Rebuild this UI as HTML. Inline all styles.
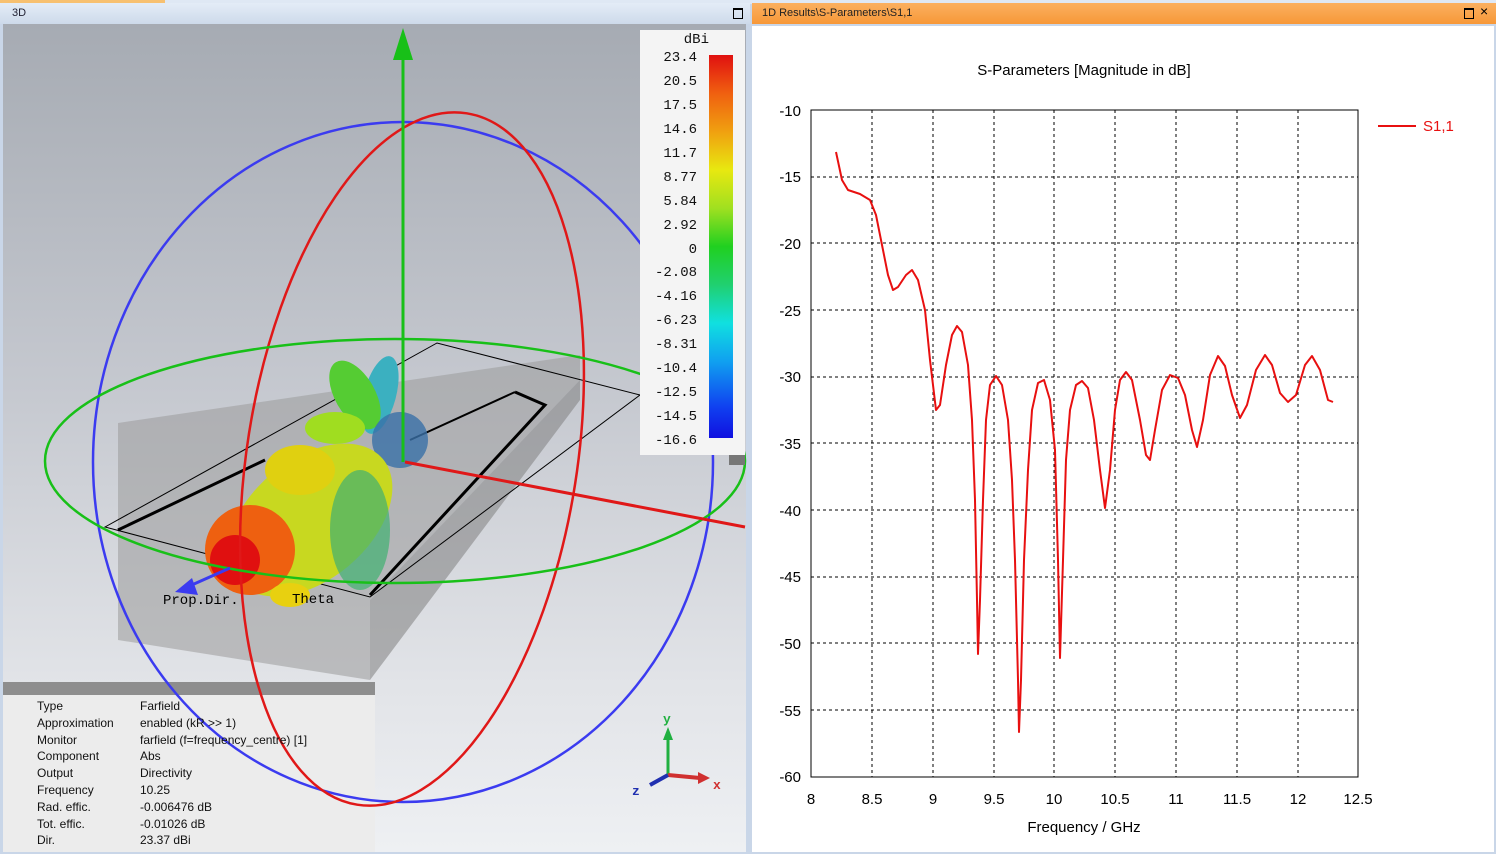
<!DOCTYPE html>
<html><head><meta charset="utf-8"><style>
body{margin:0;width:1496px;height:854px;overflow:hidden;background:#c9d6e8;font-family:"Liberation Sans",sans-serif;position:relative}
.a{position:absolute}
</style></head><body>
<div class="a" style="left:0;top:0;width:1496px;height:4px;background:#dfe8f4"></div>
<div class="a" style="left:0;top:0;width:165px;height:3px;background:#f7c070"></div>
<div class="a" style="left:0;top:3px;width:750px;height:21px;background:linear-gradient(#e4ecf7,#cddaea)"></div>
<div class="a" style="left:12px;top:7px;font-size:11px;color:#223">3D</div>
<div class="a" style="left:733px;top:8px;width:8px;height:8px;border:1px solid #000;border-top-width:2px"></div>
<div class="a" style="left:752px;top:3px;width:744px;height:21px;background:linear-gradient(#fbb060,#f79838)"></div>
<div class="a" style="left:762px;top:7px;font-size:11px;color:#222">1D Results\S-Parameters\S1,1</div>
<div class="a" style="left:1464px;top:8px;width:8px;height:8px;border:1px solid #000;border-top-width:2px"></div>
<div class="a" style="left:1480px;top:3px;font-size:14px;color:#000">×</div>
<div class="a" style="left:3px;top:24px;width:743px;height:828px;background:linear-gradient(#a6abb3 0%,#c6c9d0 45%,#e2e4e8 80%,#eef0f3 100%)"></div>
<div class="a" style="left:752px;top:26px;width:742px;height:826px;background:#fff"></div>

<svg class="a" style="left:0;top:0" width="750" height="854">
<polygon points="118,423 580,355 580,380 370,600 370,680 118,640" fill="#9a9a9a" opacity="0.55"/>
<polygon points="370,600 580,380 580,400 370,680" fill="#7f7f7f" opacity="0.55"/>
<polygon points="3,682 375,682 375,695 3,695" fill="#8e8e8e"/>
<polygon points="3,695 375,695 375,852 3,852" fill="#ececec"/>
<polygon points="105,527 437,343 640,395 370,597" fill="none" stroke="#000" stroke-width="1"/>
<polyline points="118,530 265,460" stroke="#000" stroke-width="3" fill="none"/>
<polyline points="515,392 545,405 370,595" stroke="#000" stroke-width="3" fill="none"/>
<line x1="410" y1="440" x2="515" y2="392" stroke="#000" stroke-width="2"/>
<ellipse cx="403" cy="462" rx="310" ry="340" fill="none" stroke="#3b3bf0" stroke-width="2.5"/>
<ellipse cx="380" cy="395" rx="16" ry="40" fill="#3bb0c0" transform="rotate(15 380 395)"/>
<ellipse cx="355" cy="395" rx="20" ry="38" fill="#55cc33" transform="rotate(-30 355 395)"/>
<ellipse cx="335" cy="428" rx="30" ry="16" fill="#a0dd20"/>
<ellipse cx="400" cy="440" rx="28" ry="28" fill="#3a70a8" opacity="0.8"/>
<ellipse cx="310" cy="520" rx="95" ry="60" fill="#c8d820" transform="rotate(-40 310 520)"/>
<ellipse cx="300" cy="470" rx="35" ry="25" fill="#e0d010"/>
<ellipse cx="250" cy="550" rx="45" ry="45" fill="#ee6010"/>
<ellipse cx="235" cy="560" rx="25" ry="25" fill="#e01010"/>
<ellipse cx="360" cy="530" rx="30" ry="60" fill="#40b070" opacity="0.7"/>
<ellipse cx="290" cy="595" rx="20" ry="12" fill="#e8d010"/>
<ellipse cx="412" cy="459" rx="165" ry="350" fill="none" stroke="#e01818" stroke-width="2.5" transform="rotate(9 412 459)"/>
<ellipse cx="395" cy="461" rx="350" ry="122" fill="none" stroke="#18c018" stroke-width="2.5"/>
<line x1="403" y1="462" x2="403" y2="55" stroke="#18c018" stroke-width="3"/>
<polygon points="393,60 413,60 403,28" fill="#18c018"/>
<line x1="405" y1="462" x2="745" y2="527" stroke="#e01818" stroke-width="3"/>
<line x1="230" y1="568" x2="185" y2="588" stroke="#3b3bf0" stroke-width="3"/>
<polygon points="175,592 192,578 198,595" fill="#3b3bf0"/>
<text x="163" y="604" font-family="Liberation Mono,monospace" font-size="14">Prop.Dir.</text>
<text x="292" y="603" font-family="Liberation Mono,monospace" font-size="14">Theta</text>
<line x1="668" y1="775" x2="668" y2="735" stroke="#20b040" stroke-width="3"/>
<polygon points="663,740 673,740 668,727" fill="#20b040"/>
<line x1="668" y1="775" x2="700" y2="778" stroke="#d03030" stroke-width="4"/>
<polygon points="698,772 698,784 710,778" fill="#d03030"/>
<line x1="668" y1="775" x2="650" y2="785" stroke="#2030b0" stroke-width="4"/>
<text x="663" y="723" fill="#20b040" font-size="13" font-family="Liberation Mono,monospace" font-weight="bold">y</text>
<text x="713" y="789" fill="#d03030" font-size="13" font-family="Liberation Mono,monospace" font-weight="bold">x</text>
<text x="632" y="795" fill="#2030b0" font-size="13" font-family="Liberation Mono,monospace" font-weight="bold">z</text>
<rect x="729" y="455" width="16" height="10" fill="#777"/>
<rect x="640" y="30" width="105" height="425" fill="#f4f4f4"/>
<defs><linearGradient id="cb" x1="0" y1="0" x2="0" y2="1">
<stop offset="0" stop-color="#e01010"/><stop offset=".1" stop-color="#f06010"/><stop offset=".2" stop-color="#f0a010"/><stop offset=".3" stop-color="#e8e810"/><stop offset=".4" stop-color="#a0e020"/><stop offset=".5" stop-color="#20d020"/><stop offset=".6" stop-color="#20d070"/><stop offset=".7" stop-color="#10e0e0"/><stop offset=".8" stop-color="#10a0f0"/><stop offset=".92" stop-color="#1040f0"/><stop offset="1" stop-color="#1010e0"/></linearGradient></defs>
<rect x="709" y="55" width="24" height="383" fill="url(#cb)"/>
<g font-family="Liberation Mono,monospace" font-size="14" text-anchor="end" fill="#111">
<text x="709" y="43">dBi</text>
<text x="697" y="61">23.4</text><text x="697" y="85">20.5</text><text x="697" y="109">17.5</text><text x="697" y="133">14.6</text><text x="697" y="157">11.7</text><text x="697" y="181">8.77</text><text x="697" y="205">5.84</text><text x="697" y="229">2.92</text><text x="697" y="253">0</text><text x="697" y="276">-2.08</text><text x="697" y="300">-4.16</text><text x="697" y="324">-6.23</text><text x="697" y="348">-8.31</text><text x="697" y="372">-10.4</text><text x="697" y="396">-12.5</text><text x="697" y="420">-14.5</text><text x="697" y="444">-16.6</text>
</g>
</svg>

<div class="a" style="left:37px;top:698px;font-size:12px;line-height:16.8px;color:#111">Type<br>Approximation<br>Monitor<br>Component<br>Output<br>Frequency<br>Rad. effic.<br>Tot. effic.<br>Dir.</div>
<div class="a" style="left:140px;top:698px;font-size:12px;line-height:16.8px;color:#111">Farfield<br>enabled (kR &gt;&gt; 1)<br>farfield (f=frequency_centre) [1]<br>Abs<br>Directivity<br>10.25<br>-0.006476 dB<br>-0.01026 dB<br>23.37 dBi</div>

<svg class="a" style="left:0;top:0" width="1496" height="854" font-family="Liberation Sans,sans-serif">
<text x="1084" y="75" font-size="15" text-anchor="middle">S-Parameters [Magnitude in dB]</text>
<g stroke="#000" stroke-dasharray="3,3" stroke-width="1">
<line x1="872" y1="110" x2="872" y2="777"/><line x1="933" y1="110" x2="933" y2="777"/><line x1="994" y1="110" x2="994" y2="777"/><line x1="1054" y1="110" x2="1054" y2="777"/><line x1="1115" y1="110" x2="1115" y2="777"/><line x1="1176" y1="110" x2="1176" y2="777"/><line x1="1237" y1="110" x2="1237" y2="777"/><line x1="1298" y1="110" x2="1298" y2="777"/>
<line x1="811" y1="177" x2="1358" y2="177"/><line x1="811" y1="243" x2="1358" y2="243"/><line x1="811" y1="310" x2="1358" y2="310"/><line x1="811" y1="377" x2="1358" y2="377"/><line x1="811" y1="443" x2="1358" y2="443"/><line x1="811" y1="510" x2="1358" y2="510"/><line x1="811" y1="577" x2="1358" y2="577"/><line x1="811" y1="643" x2="1358" y2="643"/><line x1="811" y1="710" x2="1358" y2="710"/>
</g>
<rect x="811" y="110" width="547" height="667" fill="none" stroke="#000"/>
<g font-size="15" text-anchor="end">
<text x="801" y="116">-10</text><text x="801" y="182">-15</text><text x="801" y="249">-20</text><text x="801" y="316">-25</text><text x="801" y="382">-30</text><text x="801" y="449">-35</text><text x="801" y="516">-40</text><text x="801" y="582">-45</text><text x="801" y="649">-50</text><text x="801" y="716">-55</text><text x="801" y="782">-60</text>
</g>
<g font-size="15" text-anchor="middle">
<text x="811" y="804">8</text><text x="872" y="804">8.5</text><text x="933" y="804">9</text><text x="994" y="804">9.5</text><text x="1054" y="804">10</text><text x="1115" y="804">10.5</text><text x="1176" y="804">11</text><text x="1237" y="804">11.5</text><text x="1298" y="804">12</text><text x="1358" y="804">12.5</text>
<text x="1084" y="832">Frequency / GHz</text>
</g>
<polyline fill="none" stroke="#e81010" stroke-width="2" stroke-linejoin="round" points="836,152 842,180 848,190 860,194 870,200 876,215 882,245 888,275 893,290 898,287 906,275 912,270 918,280 925,310 930,360 936,410 940,405 946,365 952,335 957,326 962,332 968,365 972,420 975,500 977,600 978,654 980,600 983,500 986,420 990,385 996,376 1002,385 1008,420 1012,480 1015,560 1018,680 1019,732 1021,680 1024,560 1028,470 1032,410 1038,383 1044,380 1050,400 1055,450 1058,560 1060,658 1063,560 1066,460 1070,410 1076,385 1082,381 1088,388 1094,420 1100,470 1105,508 1110,470 1115,410 1120,380 1126,372 1132,380 1140,420 1146,455 1150,460 1155,430 1162,390 1170,375 1178,378 1185,395 1192,430 1197,447 1203,420 1210,375 1218,356 1225,366 1232,395 1240,418 1247,405 1256,370 1265,355 1272,365 1280,393 1288,402 1296,395 1305,365 1312,356 1320,370 1328,400 1333,402"/>
<line x1="1378" y1="126" x2="1416" y2="126" stroke="#e81010" stroke-width="2"/>
<text x="1423" y="131" font-size="15" fill="#e81010">S1,1</text>
</svg>
</body></html>
